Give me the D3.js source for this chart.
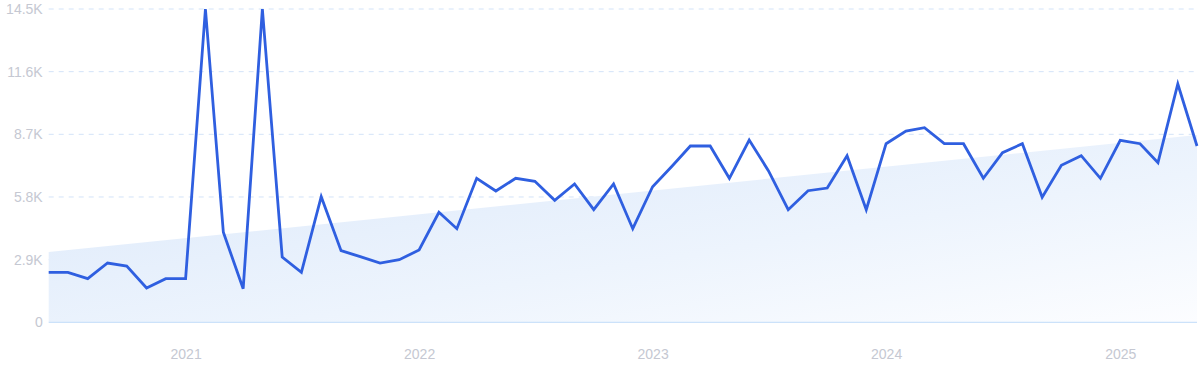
<!DOCTYPE html>
<html>
<head>
<meta charset="utf-8">
<script src="https://cdn.jsdelivr.net/npm/d3@7"></script>
<style>
  html, body { margin: 0; padding: 0; background: #fff; }
  svg { display: block; font-family: Inter, "Noto Sans", sans-serif; }
</style>
</head>
<body>
<figure id="trend" style="margin:0"></figure>
<script>
// monthly search volume, Jun 2020 .. May 2025
const months = d3.timeMonths(new Date(2020, 5, 1), new Date(2025, 5, 1));
const volume = [
  2314, 2314, 2018, 2744, 2606, 1587, 2018,
  2018, 14500, 4165, 1555, 14500, 3022, 2314, 5813, 3314, 3036, 2744, 2897,
  3346, 5091, 4332, 6664, 6077, 6664, 6525, 5646, 6400, 5211, 6400, 4332,
  6276, 7248, 8159, 8159, 6664, 8437, 7016, 5211, 6090, 6215, 7710, 5211,
  8266, 8853, 9006, 8266, 8266, 6664, 7849, 8266, 5785, 7266, 7710, 6664,
  8423, 8266, 7386, 11028, 8159
];
// trend line at first and last month
const trend = [3250, 8670];
const yTicks = [0, 2900, 5800, 8700, 11600, 14500];
const yTickLabels = ['0', '2.9K', '5.8K', '8.7K', '11.6K', '14.5K'];
const xTicks = [2021, 2022, 2023, 2024, 2025];

const width = 1200, height = 371;
const plotLeft = 48.7, plotRight = 1197, plotTop = 9, plotBottom = 322.3;

const svg = d3.select('figure#trend')
  .append('svg')
  .attr('width', width)
  .attr('height', height);

const x = d3.scaleTime()
  .domain([months[0], months[months.length - 1]])
  .range([plotLeft, plotRight]);

const y = d3.scaleLinear()
  .domain([0, 14500])
  .range([plotBottom, plotTop]);

// gradient for the trend area
const defs = svg.append('defs');
const grad = defs.append('linearGradient')
  .attr('id', 'trendFill')
  .attr('x1', '0%').attr('y1', '0%')
  .attr('x2', '100%').attr('y2', '100%');
grad.append('stop').attr('offset', '0%').attr('stop-color', '#dbe8fa');
grad.append('stop').attr('offset', '60%').attr('stop-color', '#edf4fd');
grad.append('stop').attr('offset', '100%').attr('stop-color', '#fcfdff');

// gridlines
svg.append('g')
  .selectAll('line')
  .data(yTicks.slice(1))
  .enter()
  .append('line')
  .attr('x1', plotLeft)
  .attr('x2', plotRight)
  .attr('y1', d => y(d))
  .attr('y2', d => y(d))
  .attr('stroke', '#d3e3f8')
  .attr('stroke-width', 1)
  .attr('stroke-dasharray', '5,5');

// trend area
const trendData = [
  { date: months[0], value: trend[0] },
  { date: months[months.length - 1], value: trend[1] }
];
svg.append('path')
  .datum(trendData)
  .attr('fill', 'url(#trendFill)')
  .attr('d', d3.area()
    .x(d => x(d.date))
    .y0(y(0))
    .y1(d => y(d.value)));

// baseline
svg.append('line')
  .attr('x1', plotLeft)
  .attr('x2', plotRight)
  .attr('y1', y(0))
  .attr('y2', y(0))
  .attr('stroke', '#cce2fa')
  .attr('stroke-width', 1.2);

// y axis labels
const yAxis = svg.append('g')
  .attr('transform', 'translate(' + (plotLeft - 6) + ',0)')
  .call(d3.axisLeft(y).tickValues(yTicks).tickSize(0).tickPadding(0)
    .tickFormat((d, i) => yTickLabels[i]));
yAxis.select('.domain').remove();
yAxis.selectAll('text')
  .attr('fill', '#c5c8d2')
  .style('font-size', '14px');

// x axis labels
const xAxis = svg.append('g')
  .attr('transform', 'translate(0,' + (plotBottom + 27) + ')')
  .call(d3.axisBottom(x).tickValues(xTicks.map(yr => new Date(yr, 0, 1)))
    .tickSize(0).tickPadding(0).tickFormat(d3.timeFormat('%Y')));
xAxis.select('.domain').remove();
xAxis.selectAll('text')
  .attr('fill', '#c5c8d2')
  .style('font-size', '14px');

// the series line
svg.append('path')
  .datum(volume.map((v, i) => ({ date: months[i], value: v })))
  .attr('fill', 'none')
  .attr('stroke', '#2f5fe0')
  .attr('stroke-width', 2.8)
  .attr('stroke-linejoin', 'miter')
  .attr('d', d3.line()
    .x(d => x(d.date))
    .y(d => y(d.value)));
</script>
</body>
</html>
